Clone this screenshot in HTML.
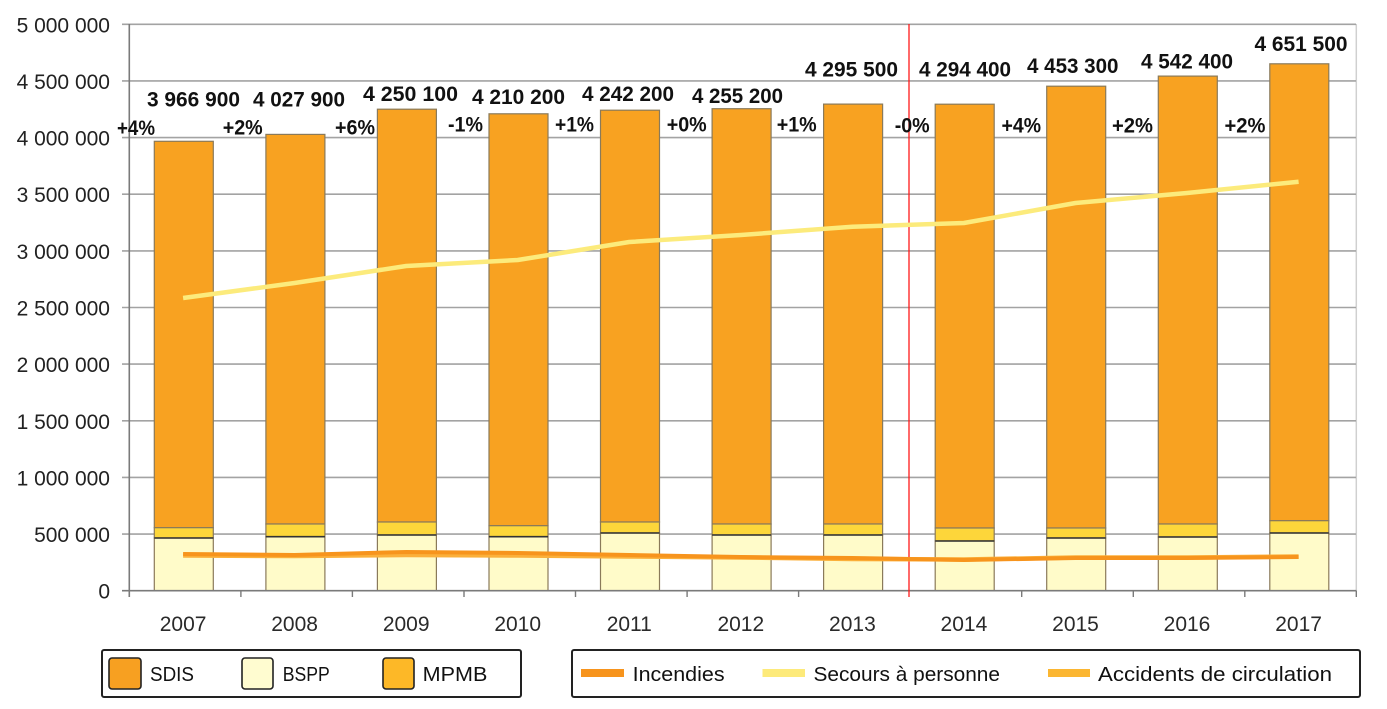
<!DOCTYPE html>
<html>
<head>
<meta charset="utf-8">
<style>
html,body{margin:0;padding:0;background:#fff;}
svg{display:block;}
text{font-family:"Liberation Sans",Arial,sans-serif;}
</style>
</head>
<body>
<svg width="1387" height="709" viewBox="0 0 1387 709" xmlns="http://www.w3.org/2000/svg">
<rect width="1387" height="709" fill="#fff"/>

<!-- right border -->
<line x1="1356.3" y1="24" x2="1356.3" y2="591" stroke="#d0d0d0" stroke-width="1.5"/>

<!-- gridlines -->
<g stroke="#a3a3a3" stroke-width="1.6">
<line x1="122" y1="24.3" x2="1356" y2="24.3"/>
<line x1="122" y1="80.9" x2="1356" y2="80.9"/>
<line x1="122" y1="137.6" x2="1356" y2="137.6"/>
<line x1="122" y1="194.2" x2="1356" y2="194.2"/>
<line x1="122" y1="250.9" x2="1356" y2="250.9"/>
<line x1="122" y1="307.5" x2="1356" y2="307.5"/>
<line x1="122" y1="364.1" x2="1356" y2="364.1"/>
<line x1="122" y1="420.8" x2="1356" y2="420.8"/>
<line x1="122" y1="477.4" x2="1356" y2="477.4"/>
<line x1="122" y1="534.1" x2="1356" y2="534.1"/>
</g>

<!-- y labels -->
<g font-size="21" fill="#222" text-anchor="end">
<text x="110" y="32.3">5 000 000</text>
<text x="110" y="88.9">4 500 000</text>
<text x="110" y="145.6">4 000 000</text>
<text x="110" y="202.2">3 500 000</text>
<text x="110" y="258.9">3 000 000</text>
<text x="110" y="315.5">2 500 000</text>
<text x="110" y="372.1">2 000 000</text>
<text x="110" y="428.8">1 500 000</text>
<text x="110" y="485.4">1 000 000</text>
<text x="110" y="542.1">500 000</text>
<text x="110" y="598.7">0</text>
</g>

<!-- bars -->
<g stroke="#8a7a5a" stroke-width="1.2">
<!-- 2007 -->
<rect x="154.3" y="141.3" width="59" height="386.4" fill="#F8A221"/>
<rect x="154.3" y="527.7" width="59" height="10.3" fill="#FDD63A"/>
<rect x="154.3" y="538" width="59" height="52.7" fill="#FFFBC9"/>
<!-- 2008 -->
<rect x="265.9" y="134.4" width="59" height="389.6" fill="#F8A221"/>
<rect x="265.9" y="524" width="59" height="12.7" fill="#FDD63A"/>
<rect x="265.9" y="536.7" width="59" height="54" fill="#FFFBC9"/>
<!-- 2009 -->
<rect x="377.4" y="109.2" width="59" height="412.8" fill="#F8A221"/>
<rect x="377.4" y="522" width="59" height="13" fill="#FDD63A"/>
<rect x="377.4" y="535" width="59" height="55.7" fill="#FFFBC9"/>
<!-- 2010 -->
<rect x="489" y="113.8" width="59" height="411.9" fill="#F8A221"/>
<rect x="489" y="525.7" width="59" height="11" fill="#FDD63A"/>
<rect x="489" y="536.7" width="59" height="54" fill="#FFFBC9"/>
<!-- 2011 -->
<rect x="600.5" y="110.2" width="59" height="411.8" fill="#F8A221"/>
<rect x="600.5" y="522" width="59" height="11" fill="#FDD63A"/>
<rect x="600.5" y="533" width="59" height="57.7" fill="#FFFBC9"/>
<!-- 2012 -->
<rect x="712.1" y="108.7" width="59" height="415.3" fill="#F8A221"/>
<rect x="712.1" y="524" width="59" height="11" fill="#FDD63A"/>
<rect x="712.1" y="535" width="59" height="55.7" fill="#FFFBC9"/>
<!-- 2013 -->
<rect x="823.6" y="104.1" width="59" height="419.9" fill="#F8A221"/>
<rect x="823.6" y="524" width="59" height="11" fill="#FDD63A"/>
<rect x="823.6" y="535" width="59" height="55.7" fill="#FFFBC9"/>
<!-- 2014 -->
<rect x="935.2" y="104.2" width="59" height="423.8" fill="#F8A221"/>
<rect x="935.2" y="528" width="59" height="13" fill="#FDD63A"/>
<rect x="935.2" y="541" width="59" height="49.7" fill="#FFFBC9"/>
<!-- 2015 -->
<rect x="1046.7" y="86.2" width="59" height="441.8" fill="#F8A221"/>
<rect x="1046.7" y="528" width="59" height="10" fill="#FDD63A"/>
<rect x="1046.7" y="538" width="59" height="52.7" fill="#FFFBC9"/>
<!-- 2016 -->
<rect x="1158.3" y="76.1" width="59" height="447.9" fill="#F8A221"/>
<rect x="1158.3" y="524" width="59" height="13" fill="#FDD63A"/>
<rect x="1158.3" y="537" width="59" height="53.7" fill="#FFFBC9"/>
<!-- 2017 -->
<rect x="1269.8" y="63.8" width="59" height="456.9" fill="#F8A221"/>
<rect x="1269.8" y="520.7" width="59" height="12.3" fill="#FDD63A"/>
<rect x="1269.8" y="533" width="59" height="57.7" fill="#FFFBC9"/>
</g>
<!-- dark separators BSPP/MPMB -->
<g stroke="#333" stroke-width="1.6">
<line x1="154.3" y1="538" x2="213.3" y2="538"/>
<line x1="265.9" y1="536.7" x2="324.9" y2="536.7"/>
<line x1="377.4" y1="535" x2="436.4" y2="535"/>
<line x1="489" y1="536.7" x2="548" y2="536.7"/>
<line x1="600.5" y1="533" x2="659.5" y2="533"/>
<line x1="712.1" y1="535" x2="771.1" y2="535"/>
<line x1="823.6" y1="535" x2="882.6" y2="535"/>
<line x1="935.2" y1="541" x2="994.2" y2="541"/>
<line x1="1046.7" y1="538" x2="1105.7" y2="538"/>
<line x1="1158.3" y1="537" x2="1217.3" y2="537"/>
<line x1="1269.8" y1="533" x2="1328.8" y2="533"/>
</g>

<!-- axes -->
<line x1="129.3" y1="24" x2="129.3" y2="597" stroke="#7a7a7a" stroke-width="1.6"/>
<line x1="122" y1="590.7" x2="1356.3" y2="590.7" stroke="#7a7a7a" stroke-width="1.6"/>
<g stroke="#7a7a7a" stroke-width="1.4">
<line x1="240.9" y1="590.7" x2="240.9" y2="597"/>
<line x1="352.4" y1="590.7" x2="352.4" y2="597"/>
<line x1="464" y1="590.7" x2="464" y2="597"/>
<line x1="575.5" y1="590.7" x2="575.5" y2="597"/>
<line x1="687.1" y1="590.7" x2="687.1" y2="597"/>
<line x1="798.6" y1="590.7" x2="798.6" y2="597"/>
<line x1="1021.7" y1="590.7" x2="1021.7" y2="597"/>
<line x1="1133.3" y1="590.7" x2="1133.3" y2="597"/>
<line x1="1244.8" y1="590.7" x2="1244.8" y2="597"/>
<line x1="1356.3" y1="590.7" x2="1356.3" y2="597"/>
</g>

<!-- red separator -->
<line x1="909" y1="24" x2="909" y2="597" stroke="#ff1a1a" stroke-width="1.3"/>

<!-- lines -->
<polyline fill="none" stroke="#FBB03B" stroke-width="4.5" stroke-linejoin="round" stroke-linecap="butt"
 points="183.1,555.5 294.6,556 406.2,555 517.7,555.5 629.3,556.5 740.8,557.5 852.4,559 963.9,559.5 1075.5,557.5 1187,557.5 1298.6,556.5"/>
<polyline fill="none" stroke="#F7941D" stroke-width="4" stroke-linejoin="round" stroke-linecap="butt"
 points="183.1,554 294.6,555 406.2,552 517.7,553 629.3,555 740.8,557 852.4,558 963.9,560 1075.5,558 1187,558 1298.6,557"/>
<polyline fill="none" stroke="#FCEB7C" stroke-width="4.5" stroke-linejoin="round" stroke-linecap="butt"
 points="183.1,298 294.6,283 406.2,266 517.7,260 629.3,242 740.8,235 852.4,226.7 963.9,223 1075.5,203 1187,193 1298.6,181.7"/>

<!-- value labels -->
<g font-size="21" font-weight="bold" fill="#111" lengthAdjust="spacingAndGlyphs">
<text x="147" y="106.5" textLength="93" lengthAdjust="spacingAndGlyphs">3 966 900</text>
<text x="253" y="106.5" textLength="92" lengthAdjust="spacingAndGlyphs">4 027 900</text>
<text x="363" y="100.8" textLength="95" lengthAdjust="spacingAndGlyphs">4 250 100</text>
<text x="472" y="104.2" textLength="93" lengthAdjust="spacingAndGlyphs">4 210 200</text>
<text x="582" y="100.8" textLength="92" lengthAdjust="spacingAndGlyphs">4 242 200</text>
<text x="692" y="103.2" textLength="91" lengthAdjust="spacingAndGlyphs">4 255 200</text>
<text x="805" y="76.5" textLength="93" lengthAdjust="spacingAndGlyphs">4 295 500</text>
<text x="919" y="76.5" textLength="92" lengthAdjust="spacingAndGlyphs">4 294 400</text>
<text x="1027" y="73.2" textLength="91.5" lengthAdjust="spacingAndGlyphs">4 453 300</text>
<text x="1141" y="68.5" textLength="92" lengthAdjust="spacingAndGlyphs">4 542 400</text>
<text x="1254.5" y="50.8" textLength="93" lengthAdjust="spacingAndGlyphs">4 651 500</text>
</g>
<!-- percent labels -->
<g font-size="21" font-weight="bold" fill="#111">
<text x="117" y="135" textLength="38" lengthAdjust="spacingAndGlyphs">+4%</text>
<text x="222.7" y="134.5" textLength="40" lengthAdjust="spacingAndGlyphs">+2%</text>
<text x="335" y="134.5" textLength="40" lengthAdjust="spacingAndGlyphs">+6%</text>
<text x="448" y="131.5" textLength="35" lengthAdjust="spacingAndGlyphs">-1%</text>
<text x="555" y="131.5" textLength="39" lengthAdjust="spacingAndGlyphs">+1%</text>
<text x="666.7" y="131.5" textLength="40" lengthAdjust="spacingAndGlyphs">+0%</text>
<text x="776.7" y="131.5" textLength="40" lengthAdjust="spacingAndGlyphs">+1%</text>
<text x="894.7" y="132.5" textLength="35" lengthAdjust="spacingAndGlyphs">-0%</text>
<text x="1001.5" y="132.5" textLength="39.5" lengthAdjust="spacingAndGlyphs">+4%</text>
<text x="1112" y="132.5" textLength="41" lengthAdjust="spacingAndGlyphs">+2%</text>
<text x="1224.5" y="132.5" textLength="41" lengthAdjust="spacingAndGlyphs">+2%</text>
</g>

<!-- x labels -->
<g font-size="21" fill="#2a2a2a" text-anchor="middle">
<text x="183.1" y="631">2007</text>
<text x="294.6" y="631">2008</text>
<text x="406.2" y="631">2009</text>
<text x="517.7" y="631">2010</text>
<text x="629.3" y="631">2011</text>
<text x="740.8" y="631">2012</text>
<text x="852.4" y="631">2013</text>
<text x="963.9" y="631">2014</text>
<text x="1075.5" y="631">2015</text>
<text x="1187" y="631">2016</text>
<text x="1298.6" y="631">2017</text>
</g>

<!-- legend 1 -->
<rect x="102" y="650" width="419" height="47" rx="2" fill="#fff" stroke="#222" stroke-width="2"/>
<rect x="109" y="658" width="32" height="31" rx="3" fill="#F7A021" stroke="#222" stroke-width="1.6"/>
<rect x="242" y="658" width="31" height="31" rx="3" fill="#FFFCD0" stroke="#222" stroke-width="1.6"/>
<rect x="383" y="658" width="31" height="31" rx="3" fill="#FDB827" stroke="#222" stroke-width="1.6"/>
<g font-size="20" fill="#111">
<text x="150" y="681" textLength="44" lengthAdjust="spacingAndGlyphs">SDIS</text>
<text x="282.7" y="681" textLength="47" lengthAdjust="spacingAndGlyphs">BSPP</text>
<text x="422.7" y="681" textLength="64.7" lengthAdjust="spacingAndGlyphs">MPMB</text>
</g>

<!-- legend 2 -->
<rect x="572" y="650" width="788" height="47" rx="2" fill="#fff" stroke="#222" stroke-width="2"/>
<rect x="581" y="669" width="43" height="8" fill="#F7941D"/>
<rect x="762.5" y="669" width="42.5" height="8" fill="#FDEA7A"/>
<rect x="1048" y="669" width="42" height="8" fill="#FBB632"/>
<g font-size="20" fill="#111">
<text x="632.6" y="681" textLength="92" lengthAdjust="spacingAndGlyphs">Incendies</text>
<text x="813.5" y="681" textLength="186.5" lengthAdjust="spacingAndGlyphs">Secours à personne</text>
<text x="1098" y="681" textLength="234" lengthAdjust="spacingAndGlyphs">Accidents de circulation</text>
</g>
</svg>
</body>
</html>
